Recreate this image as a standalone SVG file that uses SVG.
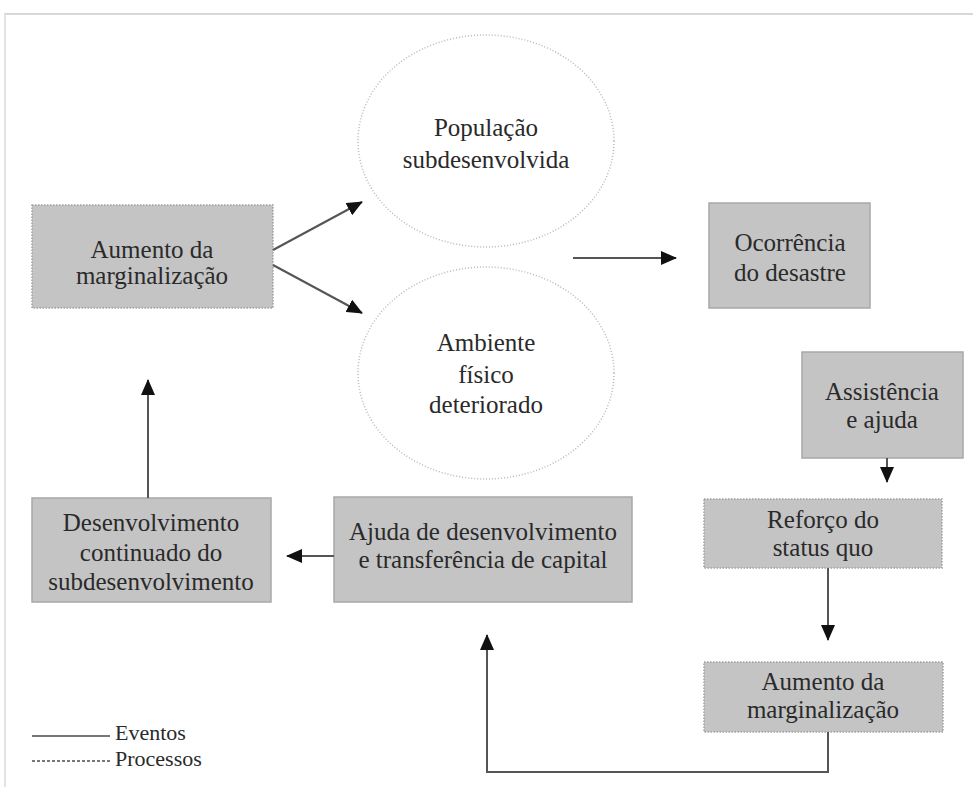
<svg xmlns="http://www.w3.org/2000/svg" width="973" height="787" viewBox="0 0 973 787">
  <style>
    .t { font-family: "Liberation Serif", "Times New Roman", serif; font-size: 25px; fill: #2a2a2a; text-anchor: middle; }
    .lg { font-family: "Liberation Serif", "Times New Roman", serif; font-size: 22px; fill: #2a2a2a; }
    .box { fill: #c4c4c4; }
    .ev { stroke: #a8a8a8; stroke-width: 1.5; }
    .pr { stroke: #a0a0a0; stroke-width: 1.5; stroke-dasharray: 1.5 1.5; }
    .ell { fill: none; stroke: #b8b8b8; stroke-width: 1.5; stroke-dasharray: 1 2; }
    .c { fill: none; stroke: #555; stroke-width: 2; }
  </style>
  <defs>
    <marker id="ah" markerUnits="userSpaceOnUse" markerWidth="16" markerHeight="14" refX="15" refY="7" orient="auto">
      <path d="M0,0 L16,7 L0,14 Z" fill="#111"/>
    </marker>
  </defs>
  <rect x="0" y="0" width="973" height="787" fill="#fff"/>
  <g id="frame">
    <line x1="4" y1="14" x2="973" y2="14" stroke="#d8d8d8" stroke-width="2"/>
    <line x1="5" y1="14" x2="5" y2="787" stroke="#e2e2e2" stroke-width="2"/>
  </g>

  <g id="n-aumento1">
    <rect class="box pr" x="32" y="205" width="241" height="103"/>
    <text class="t" x="152" y="258">Aumento da</text>
    <text class="t" x="152" y="284">marginalização</text>
  </g>
  <g id="n-populacao">
    <ellipse class="ell" cx="486" cy="141" rx="128" ry="106"/>
    <text class="t" x="486" y="136">População</text>
    <text class="t" x="486" y="168">subdesenvolvida</text>
  </g>
  <g id="n-ambiente">
    <ellipse class="ell" cx="486" cy="373" rx="128" ry="106"/>
    <text class="t" x="486" y="351">Ambiente</text>
    <text class="t" x="486" y="383">físico</text>
    <text class="t" x="486" y="413">deteriorado</text>
  </g>
  <g id="n-ocorrencia">
    <rect class="box ev" x="709" y="203" width="161" height="105"/>
    <text class="t" x="790" y="251">Ocorrência</text>
    <text class="t" x="790" y="281">do desastre</text>
  </g>
  <g id="n-assistencia">
    <rect class="box ev" x="802" y="352" width="161" height="106"/>
    <text class="t" x="882" y="400">Assistência</text>
    <text class="t" x="882" y="428">e ajuda</text>
  </g>
  <g id="n-reforco">
    <rect class="box pr" x="704" y="499" width="238" height="69"/>
    <text class="t" x="823" y="528">Reforço do</text>
    <text class="t" x="823" y="556">status quo</text>
  </g>
  <g id="n-aumento2">
    <rect class="box pr" x="704" y="662" width="239" height="70"/>
    <text class="t" x="823" y="690">Aumento da</text>
    <text class="t" x="823" y="718">marginalização</text>
  </g>
  <g id="n-ajuda">
    <rect class="box ev" x="334" y="497" width="298" height="105"/>
    <text class="t" x="483" y="540">Ajuda de desenvolvimento</text>
    <text class="t" x="483" y="568">e transferência de capital</text>
  </g>
  <g id="n-desenvolvimento">
    <rect class="box ev" x="32" y="498" width="239" height="104"/>
    <text class="t" x="151" y="531">Desenvolvimento</text>
    <text class="t" x="151" y="561">continuado do</text>
    <text class="t" x="151" y="590">subdesenvolvimento</text>
  </g>

  <g id="connectors">
    <line class="c" x1="273" y1="250" x2="362" y2="202" marker-end="url(#ah)"/>
    <line class="c" x1="273" y1="265" x2="362" y2="313" marker-end="url(#ah)"/>
    <line class="c" x1="573" y1="258" x2="676" y2="258" marker-end="url(#ah)"/>
    <line class="c" x1="887" y1="458" x2="887" y2="482" marker-end="url(#ah)"/>
    <line class="c" x1="828" y1="568" x2="828" y2="640" marker-end="url(#ah)"/>
    <polyline class="c" points="828,732 828,772 487,772 487,635" marker-end="url(#ah)"/>
    <line class="c" x1="334" y1="556" x2="287" y2="556" marker-end="url(#ah)"/>
    <line class="c" x1="148" y1="498" x2="148" y2="380" marker-end="url(#ah)"/>
  </g>

  <g id="legend">
    <line x1="32" y1="736" x2="110" y2="736" stroke="#777" stroke-width="2"/>
    <text class="lg" x="115" y="740">Eventos</text>
    <line x1="32" y1="761" x2="110" y2="761" stroke="#777" stroke-width="2" stroke-dasharray="3 2"/>
    <text class="lg" x="115" y="766">Processos</text>
  </g>
</svg>
